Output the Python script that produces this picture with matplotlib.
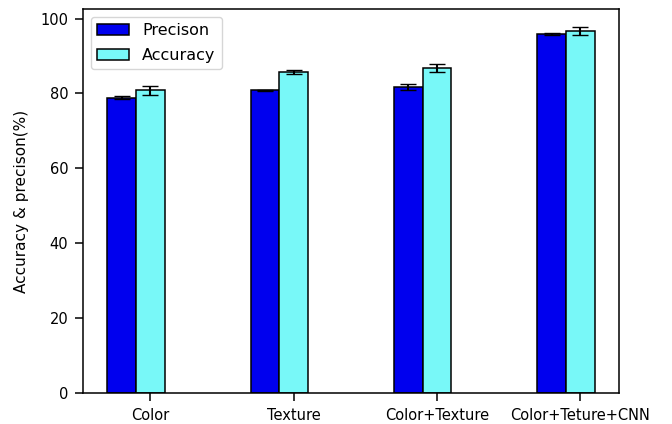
import numpy as np
import matplotlib
matplotlib.use('Agg')
from matplotlib import pyplot as plt

# data
methods = ['Color', 'Texture', 'Color+Texture', 'Color+Teture+CNN']
precision = [78.9, 80.8, 81.8, 95.8]
precision_err = [0.3, 0.2, 0.8, 0.3]
accuracy = [80.8, 85.8, 86.8, 96.7]
accuracy_err = [1.2, 0.6, 1.0, 1.0]

x = np.arange(len(methods))
width = 0.2

fig = plt.figure(figsize=(6.72, 4.24), dpi=100)
ax = fig.add_axes([0.1235, 0.073, 0.7975, 0.906])

ax.bar(x - width, precision, width, yerr=precision_err, capsize=6,
       color='#0000ee', edgecolor='black', linewidth=1.1, label='Precison')
ax.bar(x, accuracy, width, yerr=accuracy_err, capsize=6,
       color='#78f8f8', edgecolor='black', linewidth=1.1, label='Accuracy')

for s in ax.spines.values():
    s.set_linewidth(1.1)
ax.set_xticks(x)
ax.set_xticklabels(methods, fontsize=10.5)
ax.tick_params(axis='both', labelsize=10.5, length=5.5, width=1.1, pad=5)
ax.set_ylabel('Accuracy & precison(%)', fontsize=11, labelpad=8)
ax.legend(loc='upper left', fontsize=11.5, labelspacing=0.6)

fig.savefig('out.png', dpi=100)
